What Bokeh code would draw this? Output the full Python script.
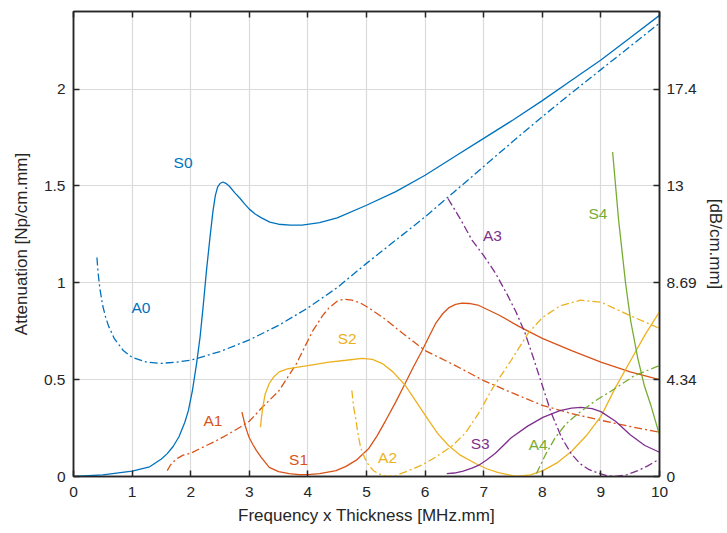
from bokeh.plotting import figure
from bokeh.models import Range1d, LinearAxis, FixedTicker, ColumnDataSource
from bokeh.core.properties import value
from bokeh.embed import file_html
from bokeh.resources import INLINE

NP2DB = 8.686

x_ticks = [0, 1, 2, 3, 4, 5, 6, 7, 8, 9, 10]
y_ticks = [0, 0.5, 1, 1.5, 2]
y_tick_labels = ["0", "0.5", "1", "1.5", "2"]
db_tick_labels = ["0", "4.34", "8.69", "13", "17.4"]

S0_x = [0, 0.5, 1.0, 1.3, 1.5, 1.6, 1.7, 1.8, 1.9, 1.96, 2.03, 2.1, 2.16, 2.21, 2.27, 2.33, 2.38, 2.42,
        2.46, 2.5, 2.55, 2.6, 2.66, 2.75, 2.84, 2.92, 3.0, 3.1, 3.2, 3.35, 3.5, 3.7, 3.9, 4.2, 4.5, 5.0,
        5.5, 6.0, 6.5, 7.0, 7.5, 8.0, 8.5, 9.0, 9.5, 10.0]
S0_y = [0, 0.008, 0.028, 0.05, 0.09, 0.118, 0.155, 0.205, 0.28, 0.34, 0.445, 0.583, 0.72, 0.87, 1.065,
        1.237, 1.37, 1.45, 1.495, 1.512, 1.52, 1.513, 1.498, 1.465, 1.436, 1.407, 1.38, 1.355, 1.336, 1.313,
        1.302, 1.297, 1.297, 1.31, 1.335, 1.40, 1.47, 1.555, 1.65, 1.745, 1.84, 1.94, 2.045, 2.15, 2.265, 2.38]

A0_x = [0.4, 0.42, 0.45, 0.5, 0.55, 0.6, 0.7, 0.85, 1.0, 1.25, 1.5, 1.75, 2.0, 2.5, 3.0, 3.5, 4.0, 4.5,
        5.0, 5.5, 6.0, 6.5, 7.0, 7.5, 8.0, 8.5, 9.0, 9.5, 10.0]
A0_y = [1.13, 1.05, 0.97, 0.88, 0.82, 0.775, 0.71, 0.65, 0.615, 0.59, 0.584, 0.59, 0.60, 0.645, 0.705,
        0.78, 0.87, 0.975, 1.10, 1.22, 1.34, 1.47, 1.60, 1.73, 1.857, 1.98, 2.10, 2.22, 2.34]

A1_x = [1.6, 1.65, 1.7, 1.78, 1.87, 2.0, 2.2, 2.44, 2.65, 2.84, 3.0, 3.23, 3.5, 3.8, 4.08, 4.25, 4.36,
        4.5, 4.62, 4.75, 4.9, 5.04, 5.33, 5.55, 6.0, 6.5, 7.0, 7.5, 8.0, 8.5, 9.0, 9.5, 10.0]
A1_y = [0.03, 0.057, 0.075, 0.095, 0.11, 0.12, 0.15, 0.185, 0.22, 0.254, 0.285, 0.36, 0.44, 0.58, 0.75,
        0.83, 0.87, 0.905, 0.915, 0.91, 0.895, 0.87, 0.81, 0.755, 0.65, 0.575, 0.495, 0.43, 0.367, 0.325,
        0.29, 0.258, 0.228]

S1_x = [2.875, 2.9, 2.93, 2.97, 3.0, 3.06, 3.12, 3.2, 3.34, 3.5, 3.68, 3.85, 4.0, 4.2, 4.48, 4.65, 4.82,
        5.04, 5.18, 5.33, 5.5, 5.65, 5.8, 5.95, 6.08, 6.18, 6.3, 6.4, 6.52, 6.63, 6.75, 6.9, 7.25, 7.6,
        8.0, 8.5, 9.0, 9.5, 10.0]
S1_y = [0.332, 0.3, 0.262, 0.225, 0.2, 0.165, 0.135, 0.1, 0.047, 0.025, 0.015, 0.01, 0.01, 0.015, 0.03,
        0.052, 0.083, 0.145, 0.21, 0.29, 0.385, 0.475, 0.565, 0.65, 0.73, 0.79, 0.84, 0.87, 0.888, 0.895,
        0.893, 0.885, 0.835, 0.775, 0.713, 0.65, 0.59, 0.54, 0.50]

S2_x = [3.19, 3.21, 3.23, 3.27, 3.34, 3.42, 3.51, 3.65, 3.8, 4.0, 4.36, 4.65, 4.93, 5.1, 5.27, 5.45,
        5.65, 5.85, 6.06, 6.22, 6.4, 6.6, 6.86, 7.05, 7.25, 7.56, 7.8, 8.01, 8.25, 8.5, 8.75, 9.0, 9.25,
        9.5, 9.75, 10.0]
S2_y = [0.255, 0.31, 0.357, 0.425, 0.48, 0.515, 0.54, 0.555, 0.563, 0.572, 0.59, 0.6, 0.61, 0.605, 0.583,
        0.54, 0.475, 0.385, 0.29, 0.22, 0.16, 0.11, 0.067, 0.04, 0.02, 0.0, 0.008, 0.03, 0.07, 0.13, 0.21,
        0.31, 0.46, 0.595, 0.73, 0.85]

A2_x = [4.75, 4.78, 4.82, 4.86, 4.9, 4.97, 5.04, 5.12, 5.2, 5.35, 5.5, 5.72, 5.95, 6.18, 6.45, 6.69,
        6.91, 7.16, 7.47, 7.76, 8.0, 8.3, 8.65, 9.0, 9.5, 10.0]
A2_y = [0.444, 0.36, 0.29, 0.21, 0.15, 0.095, 0.057, 0.03, 0.015, 0.0, 0.005, 0.03, 0.06, 0.1, 0.155,
        0.225, 0.325, 0.46, 0.6, 0.74, 0.82, 0.88, 0.91, 0.9, 0.83, 0.765]

S3_x = [6.37, 6.5, 6.65, 6.8, 6.91, 7.05, 7.2, 7.47, 7.75, 8.01, 8.3, 8.5, 8.66, 8.85, 9.0, 9.25, 9.5,
        9.75, 10.0]
S3_y = [0.015, 0.018, 0.028, 0.043, 0.057, 0.085, 0.12, 0.2, 0.26, 0.305, 0.34, 0.353, 0.357, 0.35,
        0.335, 0.285, 0.215, 0.16, 0.125]

A3_x = [6.39, 6.5, 6.6, 6.8, 7.0, 7.2, 7.4, 7.55, 7.7, 7.85, 8.0, 8.15, 8.33, 8.5, 8.65, 8.8, 8.95, 9.1,
        9.25, 9.45, 9.63, 9.8, 10.0]
A3_y = [1.435, 1.38, 1.33, 1.22, 1.14, 1.05, 0.94, 0.85, 0.745, 0.61, 0.47, 0.33, 0.2, 0.115, 0.065,
        0.035, 0.018, 0.005, 0.0, 0.01, 0.03, 0.055, 0.09]

S4_x = [9.2, 9.3, 9.42, 9.51, 9.63, 9.74, 9.85, 10.0]
S4_y = [1.675, 1.33, 1.0, 0.8, 0.61, 0.47, 0.37, 0.215]

A4_x = [7.9, 8.05, 8.22, 8.4, 8.61, 8.9, 9.17, 9.57, 10.0]
A4_y = [0.015, 0.11, 0.2, 0.27, 0.325, 0.39, 0.44, 0.52, 0.573]

label_text = ["S0", "A0", "A1", "S1", "S2", "A2", "S3", "A3", "A4", "S4"]
label_x = [1.87, 1.15, 2.38, 3.84, 4.67, 5.36, 6.94, 7.15, 7.93, 8.95]
label_y = [1.62, 0.87, 0.29, 0.09, 0.71, 0.10, 0.17, 1.245, 0.165, 1.36]

BLUE, ORANGE, YELLOW, PURPLE, GREEN = "#0072BD", "#D95319", "#EDB120", "#7E2F8E", "#77AC30"
label_color = [BLUE, BLUE, ORANGE, ORANGE, YELLOW, YELLOW, PURPLE, PURPLE, GREEN, GREEN]

FONT = "Liberation Sans"
AX = "#262626"
DASHDOT = "8 3 2 3"

p = figure(width=727, height=533, x_range=Range1d(0, 10), y_range=Range1d(0, 2.4),
           output_backend="svg", toolbar_location=None,
           min_border_left=73, min_border_right=65, min_border_top=11, min_border_bottom=57)
p.extra_y_ranges = {"db": Range1d(0, 2.4 * NP2DB)}
p.background_fill_color = "white"
p.border_fill_color = "white"
p.outline_line_color = AX
p.outline_line_width = 1.5

bottom = p.below[0]
left = p.left[0]
bottom.ticker = FixedTicker(ticks=x_ticks)
left.ticker = FixedTicker(ticks=y_ticks)
left.major_label_overrides = dict(zip(y_ticks, y_tick_labels))
bottom.axis_label = "Frequency x Thickness [MHz.mm]"
left.axis_label = "Attenuation [Np/cm.mm]"

db_ticks = [v * NP2DB for v in y_ticks]
right = LinearAxis(y_range_name="db", ticker=FixedTicker(ticks=db_ticks),
                   axis_label="[dB/cm.mm]")
right.major_label_overrides = dict(zip(db_ticks, db_tick_labels))
p.add_layout(right, "right")

top = LinearAxis(ticker=FixedTicker(ticks=x_ticks), axis_label=None)
p.add_layout(top, "above")

for ax in [bottom, left, right, top]:
    ax.axis_line_color = AX
    ax.axis_line_width = 1.5
    ax.major_tick_line_color = AX
    ax.major_tick_line_width = 1.5
    ax.major_tick_in = 6
    ax.major_tick_out = 0
    ax.minor_tick_line_color = None
    ax.major_label_text_font = FONT
    ax.major_label_text_color = AX
    ax.major_label_text_font_size = "15.5px"
    ax.axis_label_text_font = FONT
    ax.axis_label_text_color = AX
    ax.axis_label_text_font_style = "normal"
    ax.axis_label_text_font_size = "17px"

top.major_label_text_font_size = "1px"
top.major_label_text_alpha = 0
top.major_label_standoff = 0

bottom.major_label_standoff = 10
bottom.axis_label_standoff = 6
left.major_label_standoff = 8
left.axis_label_standoff = 10
right.major_label_standoff = 7
right.axis_label_standoff = 6

p.xgrid.ticker = FixedTicker(ticks=x_ticks)
p.ygrid.ticker = FixedTicker(ticks=y_ticks)
p.grid.grid_line_color = "#DADADA"
p.grid.grid_line_width = 1.2

LW = 1.3
series = [
    (S0_x, S0_y, BLUE, "solid"), (A0_x, A0_y, BLUE, DASHDOT),
    (S1_x, S1_y, ORANGE, "solid"), (A1_x, A1_y, ORANGE, DASHDOT),
    (S2_x, S2_y, YELLOW, "solid"), (A2_x, A2_y, YELLOW, DASHDOT),
    (S3_x, S3_y, PURPLE, "solid"), (A3_x, A3_y, PURPLE, DASHDOT),
    (S4_x, S4_y, GREEN, "solid"), (A4_x, A4_y, GREEN, DASHDOT),
]
for xs, ys, c, dash in series:
    p.line(xs, ys, line_color=c, line_width=LW, line_dash=dash)

src = ColumnDataSource(dict(x=label_x, y=label_y, text=label_text, color=label_color))
p.text(x="x", y="y", text="text", text_color="color", source=src, text_align="center",
       text_baseline="middle", text_font=value(FONT), text_font_size="15.5px")

open("out.html", "w").write(file_html(p, INLINE))
